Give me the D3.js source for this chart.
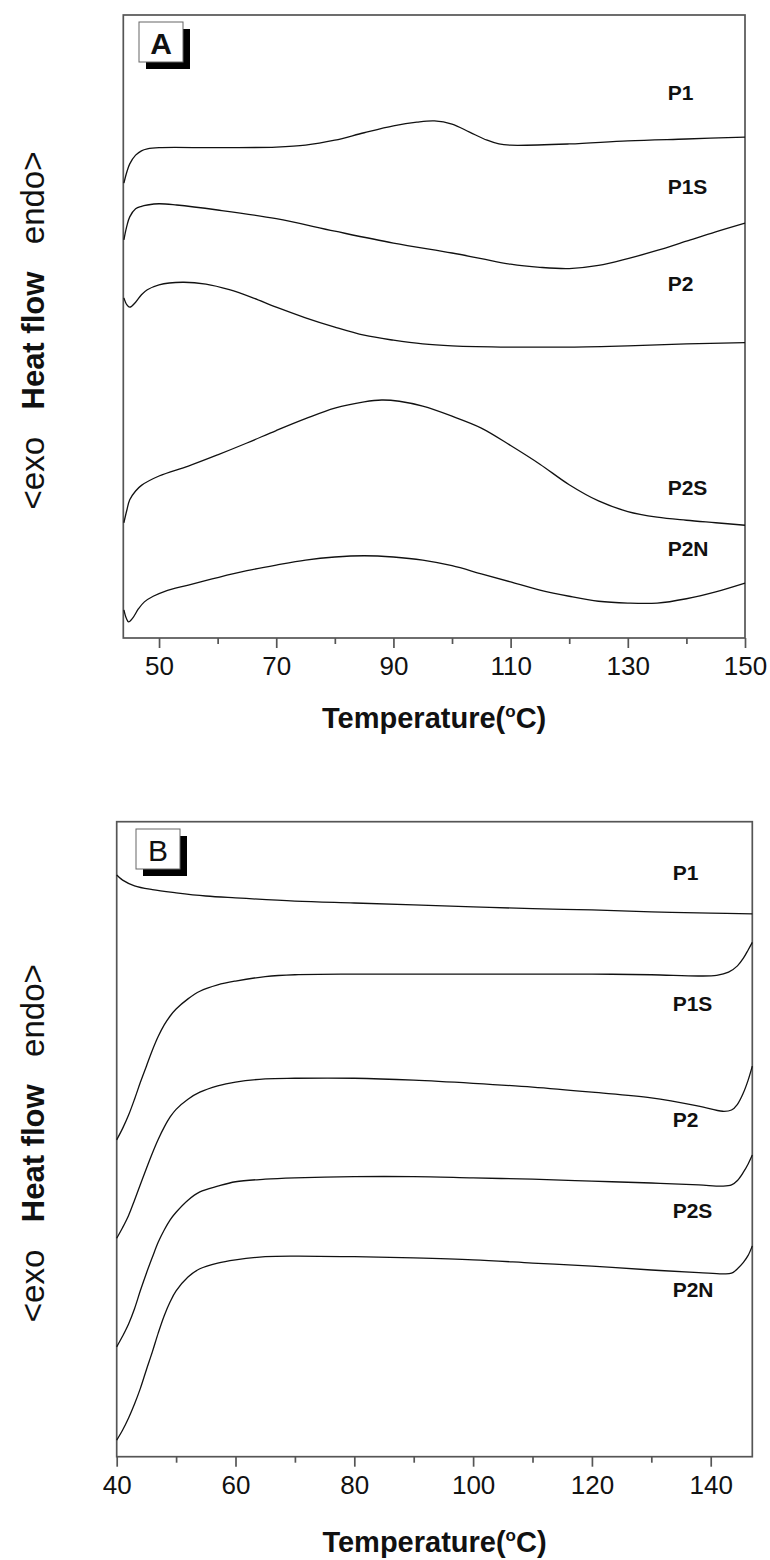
<!DOCTYPE html>
<html>
<head>
<meta charset="utf-8">
<script src="https://cdn.jsdelivr.net/npm/d3@7"></script>
<style>
  body { margin: 0; background: #fff; }
  svg text { font-family: "Liberation Sans", Arial, sans-serif; fill: #111; }
</style>
</head>
<body>
<div id="container"></div>
<script>
/* DATA (temperature in °C, heat flow in arbitrary units, curves offset for clarity) */
const seriesNames = ["P1", "P1S", "P2", "P2S", "P2N"];

// panel A
const ticksA = [50, 70, 90, 110, 130, 150];
const minorTicksA = [60, 80, 100, 120, 140];
const p1A = [[44,73.0],[44.5,74.8],[45,76.1],[46,77.5],[47,78.2],[48,78.5],[50,78.7],[60,78.7],[70,78.8],[75,79.1],[80,79.9],[85,81.1],[90,82.2],[94,82.8],[97,83.0],[100,82.5],[103,81.2],[106,79.9],[108,79.3],[110,79.1],[120,79.3],[130,79.8],[140,80.1],[150,80.4]];
const p1sA = [[44,63.9],[44.5,66.1],[45,67.6],[46,68.9],[47,69.3],[48,69.5],[50,69.7],[53,69.5],[60,68.7],[70,67.3],[80,65.3],[90,63.4],[100,61.8],[105,60.9],[110,60.0],[115,59.5],[120,59.3],[125,59.8],[130,60.9],[135,62.2],[140,63.7],[145,65.2],[150,66.6]];
const p2A = [[44,54.6],[44.5,53.5],[45,53.1],[46,53.9],[47,55.1],[48,55.9],[50,56.7],[54,57.1],[58,56.8],[62,55.9],[66,54.6],[70,53.1],[75,51.4],[80,49.9],[85,48.6],[90,47.8],[95,47.2],[100,46.9],[110,46.7],[120,46.7],[130,46.9],[140,47.2],[150,47.4]];
const p2sA = [[44,18.5],[44.5,20.5],[45,22.2],[46,23.6],[47,24.5],[50,26.0],[55,27.6],[60,29.4],[65,31.3],[70,33.3],[75,35.2],[80,36.9],[85,37.9],[88,38.2],[91,38.0],[95,37.2],[100,35.6],[105,33.7],[110,30.9],[115,27.9],[120,24.6],[125,22.0],[130,20.3],[135,19.4],[140,18.9],[145,18.5],[150,18.1]];
const p2nA = [[44,4.5],[44.4,3.2],[44.8,2.6],[45.5,3.2],[46.5,4.7],[47.5,5.8],[49,6.7],[51,7.5],[55,8.5],[60,9.7],[65,10.8],[70,11.7],[75,12.5],[80,13.0],[85,13.2],[90,13.0],[95,12.5],[100,11.6],[105,10.3],[110,9.0],[115,7.7],[120,6.7],[125,5.9],[130,5.6],[135,5.6],[140,6.3],[145,7.4],[150,8.8]];
const labelPosA = [[136.8,87.5],[136.8,72.4],[136.8,56.9],[136.8,24.2],[136.8,14.3]];

// panel B
const ticksB = [40, 60, 80, 100, 120, 140];
const minorTicksB = [50, 70, 90, 110, 130];
const p1B = [[40,91.6],[41,90.8],[43,89.9],[46,89.3],[50,88.8],[55,88.3],[60,88.0],[70,87.5],[80,87.2],[90,86.9],[100,86.6],[110,86.3],[120,86.1],[130,85.8],[140,85.6],[147,85.5]];
const p1sB = [[40,49.9],[41,51.7],[42,53.8],[43,56.3],[44,59.0],[45,61.5],[46,64.0],[47,66.2],[48,68.0],[49,69.4],[50,70.5],[52,72.1],[54,73.3],[57,74.3],[60,74.9],[65,75.6],[70,75.9],[80,76.0],[90,76.0],[100,76.0],[110,76.0],[120,76.0],[130,75.9],[138,75.7],[141,75.8],[143,76.3],[144.5,77.3],[145.5,78.5],[146.3,79.8],[147,81.0]];
const p2B = [[40,34.4],[41,36.1],[42,38.0],[43,40.4],[44,42.9],[45,45.4],[46,47.8],[47,50.0],[48,51.9],[49,53.5],[50,54.7],[52,56.3],[54,57.4],[57,58.4],[60,59.0],[65,59.5],[70,59.6],[80,59.6],[90,59.3],[100,58.8],[110,58.2],[120,57.4],[130,56.5],[138,55.2],[142,54.4],[143.5,54.6],[144.5,55.5],[145.5,57.3],[146.3,59.3],[147,61.5]];
const p2sB = [[40,17.3],[41,19.0],[42,20.9],[43,23.3],[44,26.2],[45,28.9],[46,31.4],[47,33.8],[48,35.7],[49,37.3],[50,38.5],[52,40.4],[54,41.7],[57,42.6],[60,43.3],[65,43.7],[70,43.9],[80,44.1],[90,44.1],[100,43.9],[110,43.7],[120,43.4],[130,43.1],[138,42.8],[142,42.6],[143.5,42.8],[144.5,43.5],[145.5,44.8],[146.3,46.1],[147,47.5]];
const p2nB = [[40,2.6],[41,4.2],[42,6.1],[43,8.3],[44,10.8],[45,13.7],[46,16.5],[47,19.5],[48,22.2],[49,24.4],[50,26.1],[52,28.3],[54,29.6],[57,30.5],[60,31.0],[65,31.5],[70,31.6],[80,31.5],[90,31.3],[100,31.0],[110,30.5],[120,30.0],[130,29.4],[138,29.0],[142,28.8],[143.5,28.9],[144.5,29.6],[145.5,30.6],[146.3,31.7],[147,33.2]];
const labelPosB = [[133.6,92.0],[133.6,71.3],[133.6,53.1],[133.6,38.7],[133.6,26.4]];

const panels = [
  { tag: "A", xDomain: [43.9, 150], left: 123.3, right: 745, top: 15, bottom: 638,
    ticks: ticksA, minor: minorTicksA, curves: [p1A, p1sA, p2A, p2sA, p2nA], labels: labelPosA,
    box: [139, 22], tagBold: true, titleGap: 90 },
  { tag: "B", xDomain: [40, 147], left: 116.7, right: 752.3, top: 821.7, bottom: 1456.7,
    ticks: ticksB, minor: minorTicksB, curves: [p1B, p1sB, p2B, p2sB, p2nB], labels: labelPosB,
    box: [136, 829], tagBold: false, titleGap: 95 }
];

const width = 770, height = 1560;

const svg = d3.select("#container")
  .append("svg")
  .attr("width", width)
  .attr("height", height);

svg.append("rect").attr("width", width).attr("height", height).attr("fill", "#fff");

panels.forEach(p => {
  const x = d3.scaleLinear().domain(p.xDomain).range([p.left, p.right]);
  const y = d3.scaleLinear().domain([0, 100]).range([p.bottom, p.top]);
  const g = svg.append("g");

  // frame
  g.append("rect")
    .attr("x", p.left).attr("y", p.top)
    .attr("width", p.right - p.left).attr("height", p.bottom - p.top)
    .attr("fill", "none").attr("stroke", "#555").attr("stroke-width", 1.7);

  // minor ticks
  g.append("g")
    .attr("transform", `translate(0,${p.bottom})`)
    .call(d3.axisBottom(x).tickValues(p.minor).tickSize(6).tickFormat(""))
    .call(a => a.select(".domain").remove())
    .call(a => a.selectAll("line").attr("stroke", "#555").attr("stroke-width", 1.7));

  // major ticks + labels
  g.append("g")
    .attr("transform", `translate(0,${p.bottom})`)
    .call(d3.axisBottom(x).tickValues(p.ticks).tickSize(10).tickPadding(9).tickFormat(d3.format("d")))
    .call(a => a.select(".domain").remove())
    .call(a => a.selectAll("line").attr("stroke", "#555").attr("stroke-width", 1.7))
    .call(a => a.selectAll("text")
      .attr("font-size", 26)
      .attr("fill", "#2a2a2a")
      .style("font-family", "'Liberation Sans', Arial, sans-serif"));

  // curves
  const line = d3.line()
    .x(d => x(d[0]))
    .y(d => y(d[1]))
    .curve(d3.curveCatmullRom.alpha(0.5));

  g.selectAll("path.curve")
    .data(p.curves)
    .join("path")
    .attr("class", "curve")
    .attr("d", line)
    .attr("fill", "none")
    .attr("stroke", "#111")
    .attr("stroke-width", 1.3);

  // series labels
  g.selectAll("text.lbl")
    .data(p.labels)
    .join("text")
    .attr("class", "lbl")
    .attr("x", d => x(d[0]))
    .attr("y", d => y(d[1]))
    .attr("dominant-baseline", "central")
    .attr("font-size", 21)
    .attr("font-weight", "bold")
    .text((d, i) => seriesNames[i]);

  // panel tag box with shadow
  const [bx, by] = p.box;
  g.append("rect").attr("x", bx + 7).attr("y", by + 7).attr("width", 44).attr("height", 40).attr("fill", "#000");
  g.append("rect").attr("x", bx).attr("y", by).attr("width", 44).attr("height", 40)
    .attr("fill", "#fff").attr("stroke", "#666").attr("stroke-width", 1);
  g.append("text")
    .attr("x", bx + 22).attr("y", by + 21)
    .attr("text-anchor", "middle")
    .attr("dominant-baseline", "central")
    .attr("font-size", 30)
    .attr("font-weight", p.tagBold ? "bold" : "normal")
    .text(p.tag);

  // x title
  const xt = g.append("text")
    .attr("x", (p.left + p.right) / 2)
    .attr("y", p.bottom + p.titleGap)
    .attr("text-anchor", "middle")
    .attr("font-size", 29)
    .attr("font-weight", "bold");
  xt.append("tspan").text("Temperature(");
  xt.append("tspan").attr("font-size", 17).attr("dy", -11).text("o");
  xt.append("tspan").attr("dy", 11).text("C)");

  // y title
  const yt = g.append("text")
    .attr("transform", `translate(44,${(p.top + p.bottom) / 2 + 4}) rotate(-90)`)
    .attr("text-anchor", "middle")
    .attr("font-size", 33);
  yt.append("tspan").text("<exo\u00a0\u00a0\u00a0");
  yt.append("tspan").attr("font-weight", "bold").attr("font-size", 31).text("Heat flow");
  yt.append("tspan").text("\u00a0\u00a0\u00a0endo>");
});
</script>
</body>
</html>
